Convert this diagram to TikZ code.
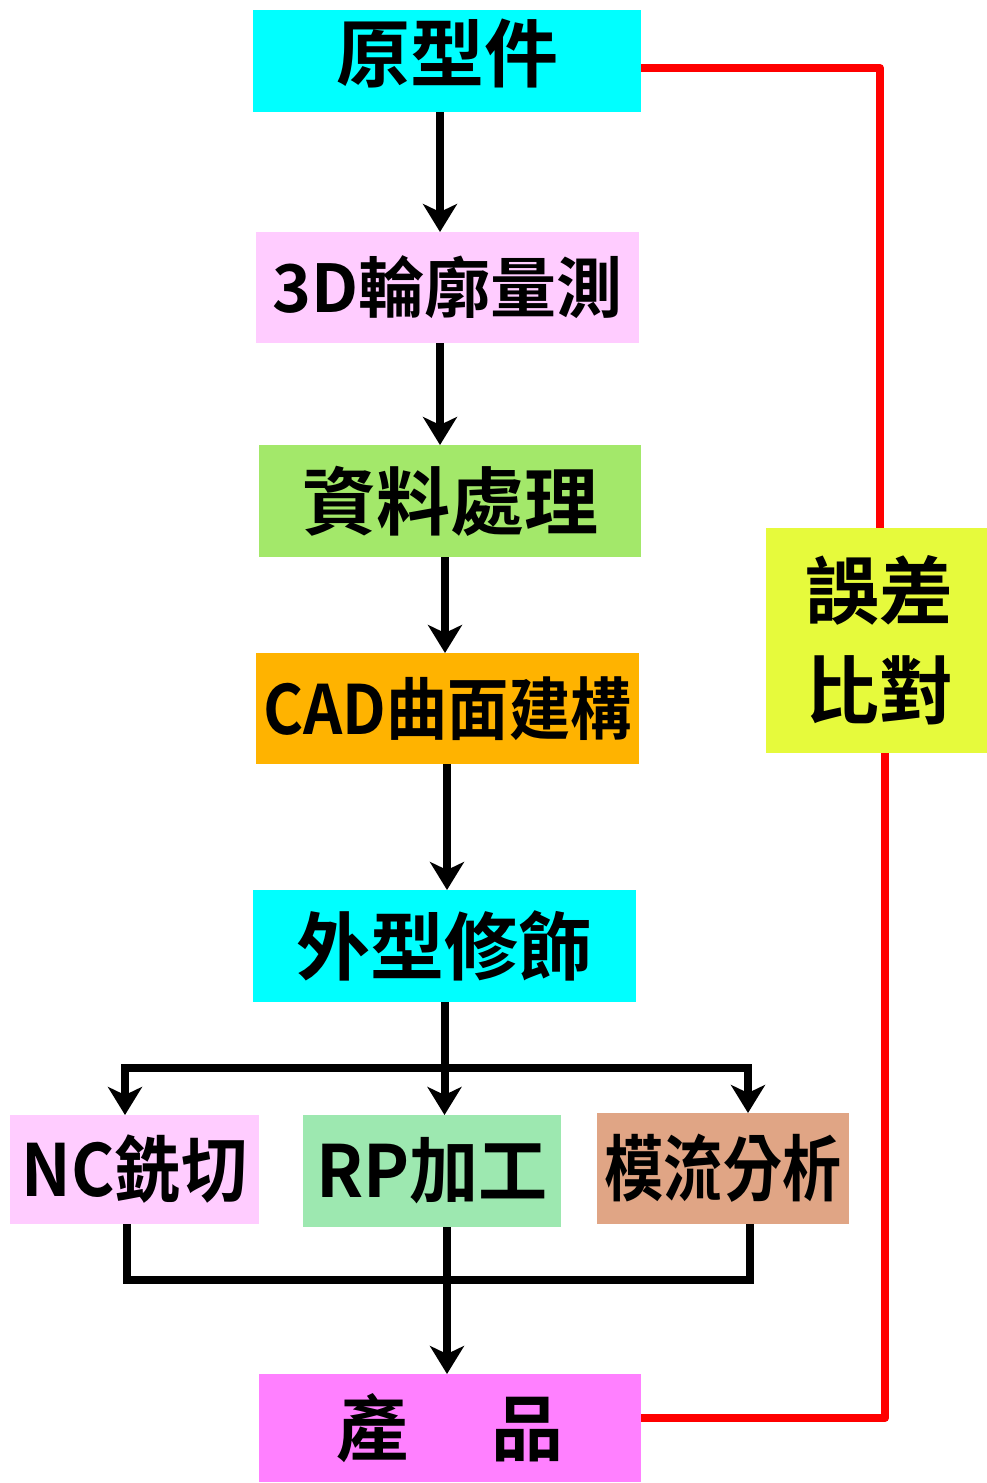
\documentclass[tikz,border=0pt]{standalone}
\usepackage{fontspec}
\newfontfamily\cjk{Noto Sans CJK TC}[BoldFont={* Bold}]
\usetikzlibrary{arrows.meta}
\definecolor{cyanbox}{HTML}{00FFFF}
\definecolor{pinkbox}{HTML}{FFCCFF}
\definecolor{greenbox}{HTML}{A3E86A}
\definecolor{orangebox}{HTML}{FFB300}
\definecolor{yellowbox}{HTML}{E6FA3C}
\definecolor{mintbox}{HTML}{9DE8B0}
\definecolor{tanbox}{HTML}{E0A585}
\definecolor{magbox}{HTML}{FF80FF}
\newcommand{\fs}[1]{\fontsize{#1}{#1}\selectfont}
\tikzset{
  box/.style={inner sep=0pt, outer sep=0pt, draw=none, align=center, font=\cjk\bfseries},
  flow/.style={line width=8pt, black, -{Stealth[length=28pt,width=34pt,inset=8pt]}},
  plain/.style={line width=8pt, black},
  fb/.style={line width=8pt, red, line join=round}
}
\begin{document}
\begin{tikzpicture}[x=1pt,y=-1pt]
\useasboundingbox (0,0) rectangle (987,1483);
\node[box, fill=cyanbox, minimum width=388pt, minimum height=102pt] (a) at (447,61) {\fs{74}\raisebox{8pt}[\height][\depth]{原型件}};
\node[box, fill=pinkbox, minimum width=383pt, minimum height=111pt] (b) at (447.5,287.5) {\fs{66}3D輪廓量測};
\node[box, fill=greenbox, minimum width=382pt, minimum height=112pt] (c) at (450,501) {\fs{74}資料處理};
\node[box, fill=orangebox, minimum width=383pt, minimum height=111pt] (d) at (447.5,708.5) {\fs{68}\scalebox{0.9}[1]{CAD曲面建構}};
\node[box, fill=cyanbox, minimum width=383pt, minimum height=112pt] (e) at (444.5,946) {\fs{74}外型修飾};
\node[box, fill=pinkbox, minimum width=249pt, minimum height=109pt] (f) at (134.5,1169.5) {\fs{72}\scalebox{0.92}[1]{NC銑切}};
\node[box, fill=mintbox, minimum width=258pt, minimum height=112pt] (g) at (432,1171) {\fs{72}\scalebox{0.96}[1]{RP加工}};
\node[box, fill=tanbox, minimum width=252pt, minimum height=111pt] (h) at (723,1168.5) {\fs{72}\scalebox{0.82}[1]{模流分析}};
\node[box, fill=magbox, minimum width=382pt, minimum height=108pt] (i) at (450,1428) {\fs{72}產\hspace{84pt}品};
\node[box, fill=yellowbox, minimum width=221pt, minimum height=225pt, font=\cjk\bfseries\fs{74}] (j) at (876.5,640.5) {\hspace*{6pt}誤差\\[26pt]\hspace*{6pt}比對};
% main flow
\draw[flow] ([xshift=-7pt]a.south) -- ([xshift=-7.5pt]b.north);
\draw[flow] ([xshift=-7.5pt]b.south) -- ([xshift=-10pt]c.north);
\draw[flow] ([xshift=-5pt]c.south) -- ([xshift=-2.5pt]d.north);
\draw[flow] ([xshift=-0.5pt]d.south) -- ([xshift=2.5pt]e.north);
% branch
\coordinate (s1) at (125,1068);
\coordinate (s2) at (748,1068);
\draw[plain, line cap=rect] (s1) -- (s2);
\draw[flow] (e.south) -- ([xshift=12.5pt]g.north);
\draw[flow] (s1) -- ([xshift=-9.5pt]f.north);
\draw[flow] (s2) -- ([xshift=25pt]h.north);
% merge
\coordinate (m1) at (127,1280);
\coordinate (m2) at (750,1280);
\coordinate (m3) at (447,1280);
\draw[plain, line join=miter] ([xshift=-7.5pt]f.south) -- (m1) -- (m2) -- ([xshift=27pt]h.south);
\draw[plain] ([xshift=15pt]g.south) -- (m3);
\draw[flow] (m3) -- ([xshift=-3pt]i.north);
% feedback
\draw[fb] (a.east |- 0,68) -| ([xshift=3.5pt]j.north);
\draw[fb] ([xshift=8.5pt]j.south) |- (i.east |- 0,1418);
\end{tikzpicture}
\end{document}
